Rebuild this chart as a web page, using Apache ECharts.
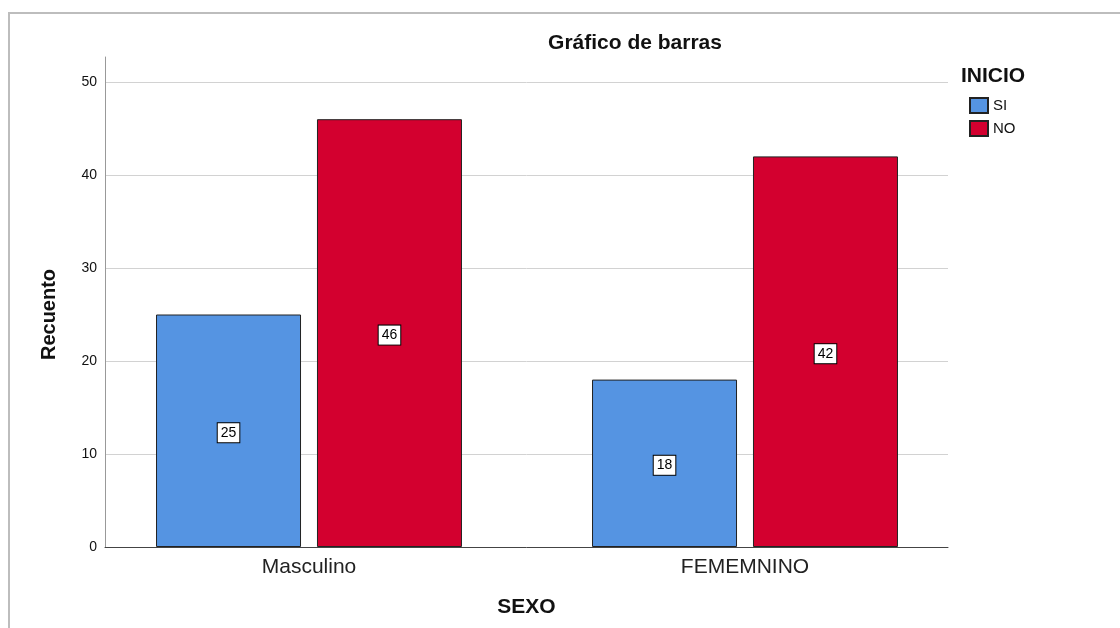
<!DOCTYPE html>
<html>
<head>
<meta charset="utf-8">
<script src="https://cdn.jsdelivr.net/npm/echarts@6/dist/echarts.min.js"></script>
<style>
html,body{margin:0;padding:0;background:#fff;}
#chart{width:1120px;height:628px;}
</style>
</head>
<body>
<div id="chart"></div>
<script>
// ---- data ----
const categories = ['Masculino', 'FEMEMNINO'];
const seriesNames = ['SI', 'NO'];
const siValues = [25, 18];
const noValues = [46, 42];
const yMin = 0, yMax = 50, yInterval = 10;
const titleText = 'Gráfico de barras';
const legendTitle = 'INICIO';
const xName = 'SEXO';
const yName = 'Recuento';

const FONT = '"Liberation Sans", Arial, sans-serif';
const colors = ['#5594e2', '#d3002f'];

const labelCfg = {
  show: true,
  position: 'inside',
  offset: [0, 2],
  color: '#000',
  fontSize: 14,
  fontFamily: FONT,
  backgroundColor: '#fff',
  borderColor: '#000',
  borderWidth: 1,
  padding: [3, 3, 2, 3]
};

const chart = echarts.init(document.getElementById('chart'));
chart.setOption({
  animation: false,
  textStyle: { fontFamily: FONT },
  title: [
    { text: titleText, left: 635, textAlign: 'center', top: 33, padding: 0,
      textStyle: { fontSize: 21, fontWeight: 'bold', color: '#111', fontFamily: FONT } },
    { text: legendTitle, left: 961, top: 66, padding: 0,
      textStyle: { fontSize: 21, fontWeight: 'bold', color: '#111', fontFamily: FONT } }
  ],
  legend: {
    orient: 'vertical', left: 969, top: 97, padding: 0,
    itemWidth: 18, itemHeight: 15, itemGap: 6,
    icon: 'rect',
    data: seriesNames,
    textStyle: { fontSize: 15, color: '#111', fontFamily: FONT }
  },
  graphic: [{
    type: 'rect', silent: true, z: -1,
    shape: { x: 9, y: 13, width: 1300, height: 800 },
    style: { fill: 'none', stroke: '#bdbdbd', lineWidth: 2 }
  }],
  grid: [
    { left: 105, right: 172, top: 82, bottom: 81 },
    { left: 91, right: 157, top: 82, bottom: 81 },
    { left: 105, right: 172, top: 57, bottom: 81 }
  ],
  xAxis: [
    { gridIndex: 0, type: 'category', data: categories,
      axisLine: { lineStyle: { color: '#444', width: 1 } },
      axisTick: { show: false }, axisLabel: { show: false },
      name: xName, nameLocation: 'middle', nameGap: 50,
      nameTextStyle: { fontSize: 21, fontWeight: 'bold', color: '#111', fontFamily: FONT } },
    { gridIndex: 1, type: 'category', data: categories,
      axisLine: { show: false }, axisTick: { show: false },
      axisLabel: { margin: 10, fontSize: 21, color: '#222', fontFamily: FONT } },
    { gridIndex: 2, type: 'category', data: categories, show: false }
  ],
  yAxis: [
    { gridIndex: 0, type: 'value', min: yMin, max: yMax, interval: yInterval,
      axisLine: { show: false }, axisTick: { show: false },
      axisLabel: { margin: 8, fontSize: 14, color: '#111', fontFamily: FONT },
      splitLine: { lineStyle: { color: '#d2d2d2', width: 1 } },
      name: yName, nameLocation: 'middle', nameGap: 46, nameRotate: 90,
      nameTextStyle: { fontSize: 20, fontWeight: 'bold', color: '#111', fontFamily: FONT } },
    { gridIndex: 1, type: 'value', min: yMin, max: yMax, interval: yInterval, show: false },
    { gridIndex: 2, type: 'value', min: 0, max: 1,
      axisLine: { show: true, lineStyle: { color: '#999', width: 1 } },
      axisTick: { show: false }, axisLabel: { show: false }, splitLine: { show: false } }
  ],
  series: [
    { name: seriesNames[0], type: 'bar', xAxisIndex: 1, yAxisIndex: 1,
      data: siValues, barWidth: 145, barGap: '11%',
      itemStyle: { color: colors[0], borderColor: '#222', borderWidth: 1 },
      label: labelCfg },
    { name: seriesNames[1], type: 'bar', xAxisIndex: 1, yAxisIndex: 1,
      data: noValues, barWidth: 145, barGap: '11%',
      itemStyle: { color: colors[1], borderColor: '#222', borderWidth: 1 },
      label: labelCfg }
  ]
});
</script>
</body>
</html>
